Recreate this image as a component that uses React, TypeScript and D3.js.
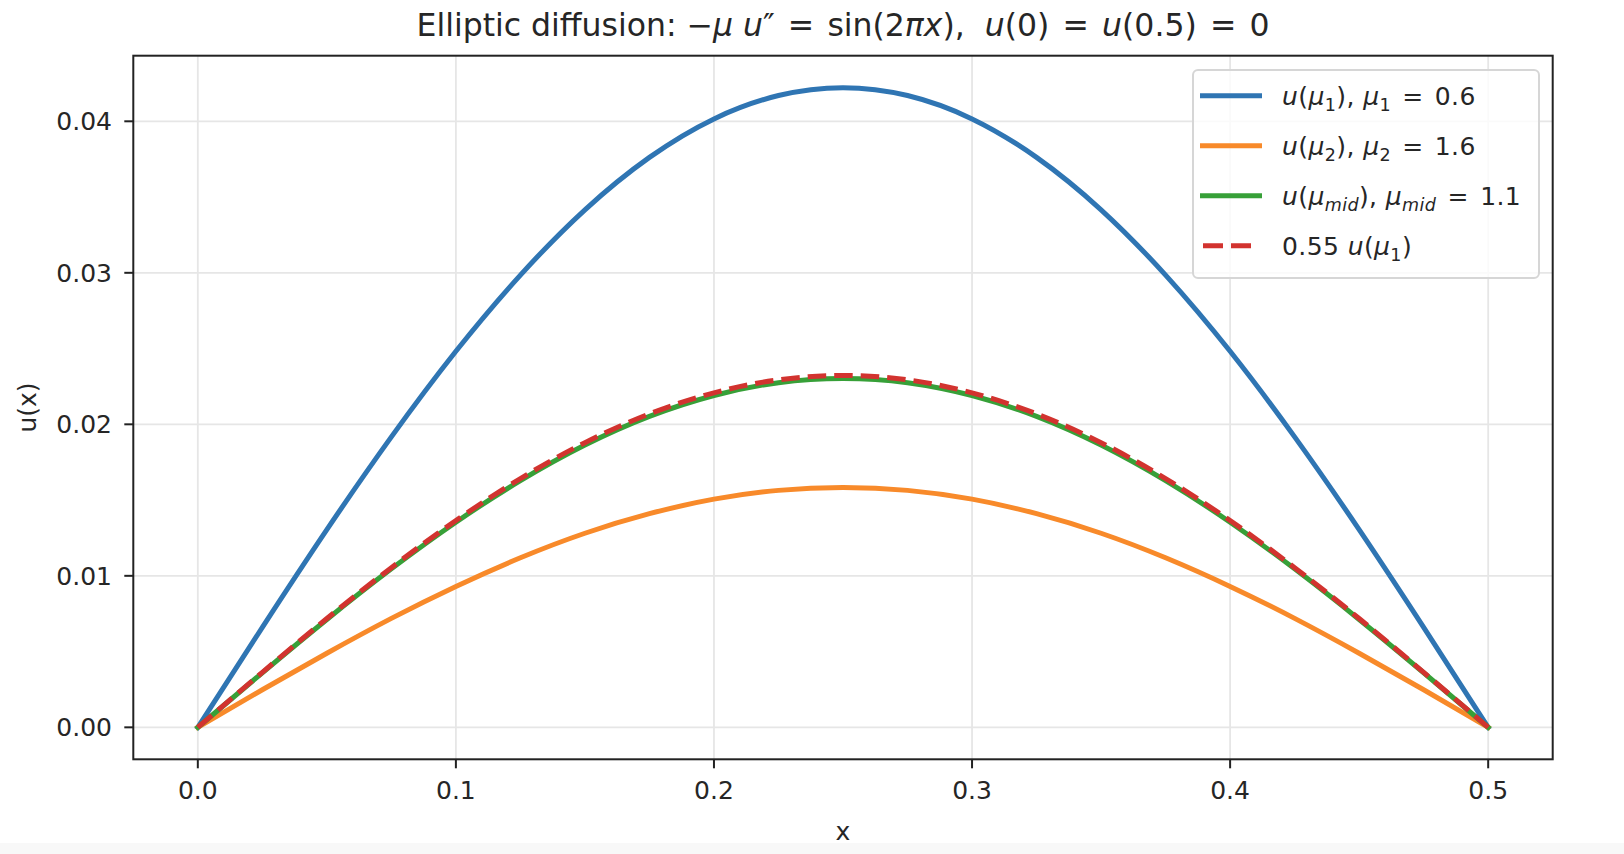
import * as d3 from "d3";
import React from "react";

// sample positions along x and the curve heights
const xs = [
  0, 0.025, 0.05, 0.075, 0.1, 0.125, 0.15, 0.175, 0.2, 0.225, 0.25,
  0.275, 0.3, 0.325, 0.35, 0.375, 0.4, 0.425, 0.45, 0.475, 0.5,
];
const uMu1 = [
  0, 0.0066, 0.01305, 0.01917, 0.02482, 0.02985, 0.03416, 0.03762, 0.04016, 0.0417, 0.04222,
  0.0417, 0.04016, 0.03762, 0.03416, 0.02985, 0.02482, 0.01917, 0.01305, 0.0066, 0,
];
const uMu2 = [
  0, 0.00248, 0.00489, 0.00719, 0.0093, 0.01119, 0.01281, 0.0141, 0.01506, 0.01564, 0.01583,
  0.01564, 0.01506, 0.0141, 0.01281, 0.01119, 0.0093, 0.00719, 0.00489, 0.00248, 0,
];
const uMid = [
  0, 0.0036, 0.00712, 0.01046, 0.01354, 0.01628, 0.01863, 0.02052, 0.0219, 0.02275, 0.02303,
  0.02275, 0.0219, 0.02052, 0.01863, 0.01628, 0.01354, 0.01046, 0.00712, 0.0036, 0,
];
const uScaled = [
  0, 0.00363, 0.00718, 0.01054, 0.01365, 0.01642, 0.01879, 0.02069, 0.02208, 0.02294, 0.02322,
  0.02294, 0.02208, 0.02069, 0.01879, 0.01642, 0.01365, 0.01054, 0.00718, 0.00363, 0,
];
const xTicks = [0, 0.1, 0.2, 0.3, 0.4, 0.5];
const yTicks = [0, 0.01, 0.02, 0.03, 0.04];

const BLUE = "#2f75b3";
const ORANGE = "#f88a2a";
const GREEN = "#37a038";
const RED = "#d2332f";

type Seg = { t: string; i?: boolean; sub?: boolean };

const EQ = " \u200A=\u200A ";

const legendItems: { segs: Seg[]; color: string; dash?: string }[] = [
  {
    segs: [
      { t: "u", i: true }, { t: "(" }, { t: "μ", i: true }, { t: "1", sub: true },
      { t: "), " }, { t: "μ", i: true }, { t: "1", sub: true }, { t: EQ + "0.6" },
    ],
    color: BLUE,
  },
  {
    segs: [
      { t: "u", i: true }, { t: "(" }, { t: "μ", i: true }, { t: "2", sub: true },
      { t: "), " }, { t: "μ", i: true }, { t: "2", sub: true }, { t: EQ + "1.6" },
    ],
    color: ORANGE,
  },
  {
    segs: [
      { t: "u", i: true }, { t: "(" }, { t: "μ", i: true }, { t: "mid", sub: true, i: true },
      { t: "), " }, { t: "μ", i: true }, { t: "mid", sub: true, i: true }, { t: EQ + "1.1" },
    ],
    color: GREEN,
  },
  {
    segs: [
      { t: "0.55 " }, { t: "u", i: true }, { t: "(" }, { t: "μ", i: true },
      { t: "1", sub: true }, { t: ")" },
    ],
    color: RED,
    dash: "20,8",
  },
];

const titleSegs: Seg[] = [
  { t: "Elliptic diffusion: −" }, { t: "μ", i: true }, { t: " " }, { t: "u", i: true },
  { t: "″" + EQ + "sin(2" }, { t: "π", i: true }, { t: "x", i: true }, { t: "),  " },
  { t: "u", i: true }, { t: "(0)" + EQ }, { t: "u", i: true }, { t: "(0.5)" + EQ + "0" },
];

function MathText({ segs, x, y, size, anchor, spacing }: {
  segs: Seg[]; x: number; y: number; size: number; anchor?: string; spacing?: number;
}) {
  let prev = 0;
  return (
    <text x={x} y={y} fontSize={size} textAnchor={anchor || "start"} letterSpacing={spacing || 0}
      style={{ whiteSpace: "pre" }}>
      {segs.map((s, k) => {
        const off = s.sub ? size * 0.24 : 0;
        const dy = off - prev;
        prev = off;
        return (
          <tspan key={k} dy={dy} fontStyle={s.i ? "italic" : "normal"} fontSize={s.sub ? size * 0.7 : size}>
            {s.t}
          </tspan>
        );
      })}
    </text>
  );
}

const W = 1624;
const H = 854;
const L = 133.3, R = 1552.7, T = 55.7, B = 759.3;

export default function App() {
  const x = d3.scaleLinear().domain([-0.025, 0.525]).range([L, R]);
  const y = d3.scaleLinear().domain([-0.00211, 0.04433]).range([B, T]);

  const line = (vals: number[]) =>
    d3.line<number>()
      .x((_, k) => x(xs[k]))
      .y((v) => y(v))
      .curve(d3.curveNatural)(vals) || "";

  const series = [
    { vals: uMu1, color: BLUE },
    { vals: uMu2, color: ORANGE },
    { vals: uMid, color: GREEN },
    { vals: uScaled, color: RED, dash: "18.5,8" },
  ];

  const font = "'DejaVu Sans', sans-serif";
  const legX = 1193, legY = 70, legW = 346, legH = 208;

  return (
    <div style={{ position: "fixed", left: 0, top: 0 }}>
      <svg width={W} height={H} fontFamily={font} fill="#262626">
        <rect x={0} y={0} width={W} height={H} fill="#ffffff" />
        <rect x={0} y={843} width={W} height={H - 843} fill="#f8f8f8" />

        {/* grid */}
        {xTicks.map((t) => (
          <line key={"gx" + t} x1={x(t)} x2={x(t)} y1={T} y2={B} stroke="#e6e6e6" strokeWidth={1.8} />
        ))}
        {yTicks.map((t) => (
          <line key={"gy" + t} x1={L} x2={R} y1={y(t)} y2={y(t)} stroke="#e6e6e6" strokeWidth={1.8} />
        ))}

        {/* curves */}
        {series.map((s, k) => (
          <path key={k} d={line(s.vals)} fill="none" stroke={s.color} strokeWidth={5}
            strokeDasharray={s.dash} strokeLinecap={s.dash ? "butt" : "square"} />
        ))}

        {/* spines */}
        <rect x={L} y={T} width={R - L} height={B - T} fill="none" stroke="#222" strokeWidth={2} />

        {/* x ticks */}
        {xTicks.map((t) => (
          <g key={"xt" + t}>
            <line x1={x(t)} x2={x(t)} y1={B} y2={B + 9} stroke="#222" strokeWidth={2} />
            <text x={x(t)} y={799} fontSize={25} textAnchor="middle">{d3.format(".1f")(t)}</text>
          </g>
        ))}
        {/* y ticks */}
        {yTicks.map((t) => (
          <g key={"yt" + t}>
            <line x1={L - 9} x2={L} y1={y(t)} y2={y(t)} stroke="#222" strokeWidth={2} />
            <text x={112} y={y(t) + 9} fontSize={25} textAnchor="end">{d3.format(".2f")(t)}</text>
          </g>
        ))}

        <text x={(L + R) / 2} y={840} fontSize={25} textAnchor="middle">x</text>
        <text transform={`translate(36,${(T + B) / 2}) rotate(-90)`} fontSize={25} textAnchor="middle">u(x)</text>

        <MathText segs={titleSegs} x={(L + R) / 2} y={36} size={31.5} anchor="middle" />

        {/* legend */}
        <rect x={legX} y={legY} width={legW} height={legH} rx={5} fill="#ffffff" fillOpacity={0.8}
          stroke="#d6d6d6" strokeWidth={2} />
        {legendItems.map((it, k) => {
          const cy = 95.7 + k * 50;
          return (
            <g key={"lg" + k}>
              <line x1={it.dash ? 1203 : 1200} x2={it.dash ? 1253 : 1262} y1={cy} y2={cy} stroke={it.color}
                strokeWidth={5} strokeDasharray={it.dash} />
              <MathText segs={it.segs} x={1282} y={cy + 9} size={25} spacing={0.4} />
            </g>
          );
        })}
      </svg>
    </div>
  );
}
